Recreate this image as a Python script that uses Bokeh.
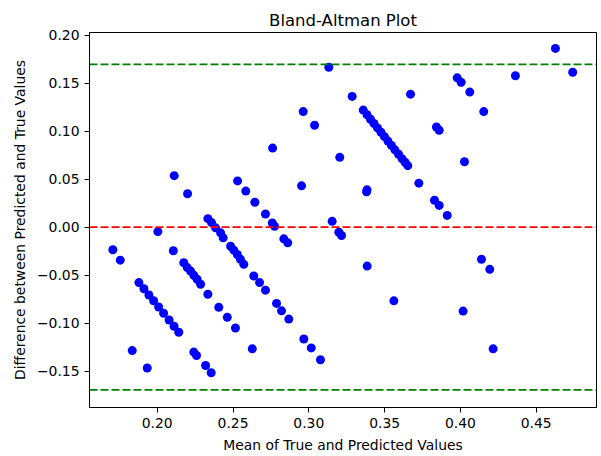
from bokeh.plotting import figure
from bokeh.models import Span, Range1d, FixedTicker, ColumnDataSource
from bokeh.embed import file_html
from bokeh.resources import INLINE

# Mean of true and predicted values
mean_vals = [
    0.1707, 0.1756, 0.1835, 0.1934, 0.2004,
    0.1879, 0.1912, 0.1945, 0.1976, 0.2009, 0.2042, 0.2078, 0.2111, 0.2142,
    0.2106, 0.2112, 0.2200,
    0.2175, 0.2198, 0.2220, 0.2241, 0.2263, 0.2286,
    0.2334, 0.2406, 0.2462, 0.2516,
    0.2241, 0.2259, 0.2319, 0.2356,
    0.2334, 0.2358, 0.2385, 0.2418, 0.2435,
    0.2484, 0.2505, 0.2528, 0.2549, 0.2571,
    0.2637, 0.2675, 0.2714,
    0.2530, 0.2584, 0.2644, 0.2714, 0.2759, 0.2774, 0.2835, 0.2861,
    0.2627,
    0.2787, 0.2820, 0.2868,
    0.2761, 0.2952, 0.2963, 0.3038,
    0.2967, 0.3016, 0.3077,
    0.3132, 0.3154, 0.3198, 0.3216, 0.3204, 0.3286,
    0.3359, 0.3384, 0.3407, 0.3430, 0.3453, 0.3476, 0.3499,
    0.3522, 0.3545, 0.3568, 0.3592, 0.3615, 0.3635, 0.3653,
    0.3381, 0.3384, 0.3385, 0.3561,
    0.3671, 0.3726, 0.3829, 0.3860, 0.3913,
    0.3842, 0.3860,
    0.3979, 0.4005, 0.4062, 0.4154,
    0.4027, 0.4018, 0.4139, 0.4194, 0.4216,
    0.4363, 0.4627, 0.4741,
]

# Difference between predicted and true values
diff_vals = [
    -0.0236, -0.0344, -0.1286, -0.1468, -0.0047,
    -0.0578, -0.0642, -0.0707, -0.0767, -0.0832, -0.0897, -0.0968, -0.1033, -0.1095,
    -0.0246, 0.0536, 0.0347,
    -0.0371, -0.0422, -0.0458, -0.0502, -0.0543, -0.0595,
    -0.0699, -0.0836, -0.0940, -0.1051,
    -0.1302, -0.1337, -0.1441, -0.1517,
    0.0088, 0.0047, -0.0008, -0.0060, -0.0112,
    -0.0199, -0.0240, -0.0285, -0.0336, -0.0388,
    -0.0509, -0.0578, -0.0657,
    0.0481, 0.0375, 0.0259, 0.0137, 0.0043, 0.0008, -0.0122, -0.0164,
    -0.1268,
    -0.0795, -0.0872, -0.0958,
    0.0823, 0.0430, 0.1203, 0.1061,
    -0.1165, -0.1258, -0.1382,
    0.1665, 0.0060, -0.0054, -0.0088, 0.0727, 0.1361,
    0.1219, 0.1170, 0.1124, 0.1079, 0.1033, 0.0988, 0.0942,
    0.0896, 0.0851, 0.0805, 0.0759, 0.0713, 0.0676, 0.0640,
    0.0367, 0.0388, -0.0406, -0.0768,
    0.1385, 0.0458, 0.0280, 0.0226, 0.0122,
    0.1043, 0.1009,
    0.1555, 0.1509, 0.1406, 0.1203,
    0.0681, -0.0875, -0.0336, -0.0440, -0.1268,
    0.1576, 0.1861, 0.1613,
]

mean_diff = 0.0
upper_loa = 0.1695
lower_loa = -0.1695

x_ticks = [0.20, 0.25, 0.30, 0.35, 0.40, 0.45]
y_ticks = [-0.15, -0.10, -0.05, 0.00, 0.05, 0.10, 0.15, 0.20]


def fmt(v):
    s = "%.2f" % abs(v)
    return ("\u2212" + s) if v < -1e-9 else s


FONT = "DejaVu Sans"

p = figure(
    width=600, height=455,
    output_backend="svg", toolbar_location=None,
    x_range=Range1d(0.1553, 0.4898), y_range=Range1d(-0.1879, 0.2027),
    title="Bland-Altman Plot",
    min_border_left=89, min_border_right=4, min_border_top=32, min_border_bottom=46,
)

p.title.align = "center"
p.title.text_font = FONT
p.title.text_font_size = "16.5px"
p.title.text_font_style = "normal"
p.title.text_color = "black"
p.title.standoff = 5

p.grid.visible = False
p.outline_line_color = "black"
p.outline_line_width = 1
p.background_fill_color = "white"
p.border_fill_color = "white"

for ax in (p.xaxis[0], p.yaxis[0]):
    ax.axis_line_color = "black"
    ax.major_tick_line_color = "black"
    ax.major_tick_in = 0
    ax.major_tick_out = 5
    ax.minor_tick_line_color = None
    ax.major_label_text_font = FONT
    ax.major_label_text_font_size = "13.9px"
    ax.major_label_text_color = "black"
    ax.axis_label_text_font = FONT
    ax.axis_label_text_font_size = "13.9px"
    ax.axis_label_text_font_style = "normal"
    ax.axis_label_text_color = "black"
    ax.major_label_standoff = 5
    ax.axis_label_standoff = 6

p.xaxis.ticker = FixedTicker(ticks=x_ticks)
p.yaxis.ticker = FixedTicker(ticks=y_ticks)
p.xaxis.major_label_overrides = {t: fmt(t) for t in x_ticks}
p.yaxis.major_label_overrides = {t: fmt(t) for t in y_ticks}
p.xaxis.axis_label = "Mean of True and Predicted Values"
p.yaxis.axis_label = "Difference between Predicted and True Values"

src = ColumnDataSource(data=dict(x=mean_vals, y=diff_vals))
p.scatter("x", "y", source=src, size=9, fill_color="blue", line_color=None)

p.add_layout(Span(location=mean_diff, dimension="width", line_color="red",
                  line_dash="8 3", line_width=1.8))
p.add_layout(Span(location=upper_loa, dimension="width", line_color="green",
                  line_dash="8 3", line_width=1.8))
p.add_layout(Span(location=lower_loa, dimension="width", line_color="green",
                  line_dash="8 3", line_width=1.8))

open("out.html", "w").write(file_html(p, INLINE))
